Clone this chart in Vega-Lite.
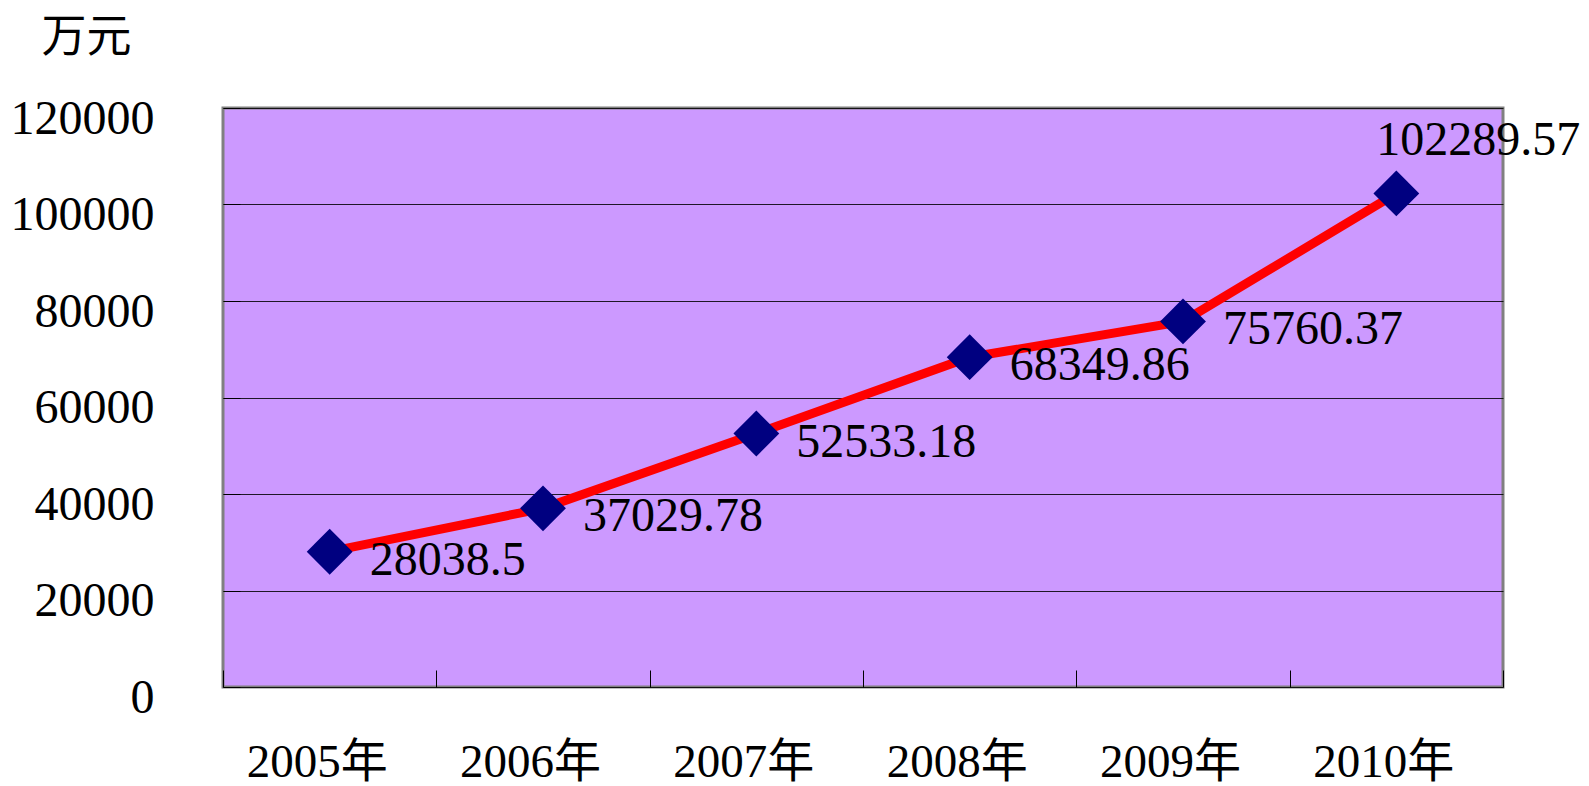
{
  "$schema": "https://vega.github.io/schema/vega-lite/v6.json",
  "width": 1280,
  "height": 579,
  "autosize": {"type": "none"},
  "padding": {"left": 223, "top": 108, "right": 86, "bottom": 99},
  "background": "white",
  "config": {
    "view": {"fill": "#CC99FF", "stroke": "#808080", "strokeWidth": 3},
    "font": "Liberation Serif, Noto Sans CJK SC"
  },
  "data": {
    "values": [
      {"year": "2005年", "value": 28038.5},
      {"year": "2006年", "value": 37029.78},
      {"year": "2007年", "value": 52533.18},
      {"year": "2008年", "value": 68349.86},
      {"year": "2009年", "value": 75760.37},
      {"year": "2010年", "value": 102289.57}
    ]
  },
  "encoding": {
    "x": {
      "field": "year",
      "type": "ordinal",
      "sort": null,
      "scale": {"type": "band", "paddingInner": 0, "paddingOuter": 0},
      "axis": {
        "title": null,
        "domain": false,
        "tickBand": "extent",
        "tickSize": -17,
        "tickColor": "#000000",
        "tickWidth": 1,
        "labelAngle": 0,
        "labelFontSize": 47,
        "labelColor": "#000000",
        "labelPadding": 69,
        "labelOffset": -13,
        "labelBaseline": "top",
        "grid": false
      }
    },
    "y": {
      "field": "value",
      "type": "quantitative",
      "scale": {"domain": [0, 120000], "nice": false},
      "axis": {
        "values": [0, 20000, 40000, 60000, 80000, 100000, 120000],
        "format": "d",
        "domain": false,
        "grid": true,
        "gridColor": "#000000",
        "gridWidth": 1,
        "gridOpacity": 0.85,
        "tickSize": -17,
        "tickColor": "#000000",
        "tickWidth": 1,
        "labelFontSize": 48,
        "labelColor": "#000000",
        "labelPadding": 86,
        "labelOffset": 11,
        "title": "万元",
        "titleAngle": 0,
        "titleX": -137,
        "titleY": -71,
        "titleAlign": "center",
        "titleBaseline": "middle",
        "titleFontSize": 45,
        "titleFontWeight": "normal",
        "titleColor": "#000000",
        "titleFont": "Noto Sans CJK SC"
      }
    }
  },
  "layer": [
    {
      "mark": {"type": "line", "color": "#FF0000", "strokeWidth": 9}
    },
    {
      "mark": {"type": "point", "shape": "diamond", "filled": true, "color": "#000080", "opacity": 1, "size": 2100}
    },
    {
      "transform": [{"filter": "datum.year != '2010年'"}],
      "mark": {"type": "text", "align": "left", "baseline": "middle", "dx": 40, "dy": 9, "fontSize": 48, "color": "#000000"},
      "encoding": {"text": {"field": "value", "type": "nominal"}}
    },
    {
      "transform": [{"filter": "datum.year == '2010年'"}],
      "mark": {"type": "text", "align": "center", "baseline": "middle", "dx": 82, "dy": -52, "fontSize": 48, "color": "#000000"},
      "encoding": {"text": {"field": "value", "type": "nominal"}}
    }
  ]
}
